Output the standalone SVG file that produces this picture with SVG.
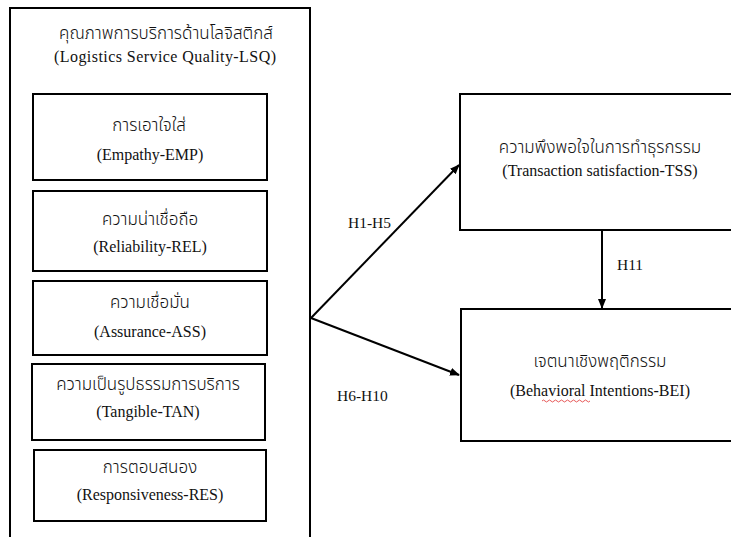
<svg xmlns="http://www.w3.org/2000/svg" width="731" height="537" viewBox="0 0 731 537">
<style>
.box{fill:none;stroke:#000;stroke-width:2}
.th{font-family:"Noto Sans Thai","Noto Sans","DejaVu Sans",sans-serif;font-size:17px;font-weight:300;text-anchor:middle;fill:#111}
.en{font-family:"Liberation Serif","Times New Roman",serif;font-size:16px;text-anchor:middle;fill:#111}
.lbl{font-family:"Liberation Serif","Times New Roman",serif;font-size:15.5px;fill:#111}
.conn{stroke:#000;stroke-width:2;fill:none}
</style>
<defs>
<marker id="ah" markerWidth="10" markerHeight="8" refX="9" refY="4" orient="auto" markerUnits="userSpaceOnUse">
<path d="M0,0 L10,4 L0,8 z" fill="#000"/>
</marker>
</defs>
<rect width="731" height="537" fill="#fff"/>
<g id="LSQ">
<path class="box" d="M10,545 V8 H310 V545"/>
<text class="th" x="166" y="39">คุณภาพการบริการด้านโลจิสติกส์</text>
<text class="en" x="165" y="62" textLength="222" lengthAdjust="spacing">(Logistics Service Quality-LSQ)</text>
</g>
<g id="EMP">
<rect class="box" x="33" y="94" width="234" height="86"/>
<text class="th" x="149" y="131">การเอาใจใส่</text>
<text class="en" x="150" y="160">(Empathy-EMP)</text>
</g>
<g id="REL">
<rect class="box" x="33" y="191" width="234" height="80"/>
<text class="th" x="150" y="225">ความน่าเชื่อถือ</text>
<text class="en" x="150" y="252">(Reliability-REL)</text>
</g>
<g id="ASS">
<rect class="box" x="33" y="281" width="234" height="74"/>
<text class="th" x="150" y="308">ความเชื่อมั่น</text>
<text class="en" x="150" y="337">(Assurance-ASS)</text>
</g>
<g id="TAN">
<rect class="box" x="32" y="364" width="233" height="76"/>
<text class="th" x="148" y="390">ความเป็นรูปธรรมการบริการ</text>
<text class="en" x="148" y="417">(Tangible-TAN)</text>
</g>
<g id="RES">
<rect class="box" x="34" y="450" width="232" height="71"/>
<text class="th" x="150" y="473">การตอบสนอง</text>
<text class="en" x="150" y="500">(Responsiveness-RES)</text>
</g>
<g id="TSS">
<path class="box" d="M740,94 H460 V230 H740"/>
<text class="th" x="600" y="153">ความพึงพอใจในการทำธุรกรรม</text>
<text class="en" x="600" y="176">(Transaction satisfaction-TSS)</text>
</g>
<g id="BEI">
<path class="box" d="M740,309 H461 V441 H740"/>
<text class="th" x="600" y="367">เจตนาเชิงพฤติกรรม</text>
<text class="en" x="600" y="396">(Behavioral Intentions-BEI)</text>
<path d="M542,401 q1.5,-2 3,0 t3,0 t3,0 t3,0 t3,0 t3,0 t3,0 t3,0 t3,0 t3,0 t3,0 t3,0 t3,0 t3,0 t3,0 t3,0" fill="none" stroke="#e03030" stroke-width="0.8"/>
</g>
<g id="connectors">
<line class="conn" x1="311" y1="318" x2="459" y2="165" marker-end="url(#ah)"/>
<line class="conn" x1="311" y1="318" x2="459" y2="375" marker-end="url(#ah)"/>
<line class="conn" x1="602" y1="230" x2="602" y2="308" marker-end="url(#ah)"/>
<text class="lbl" x="348" y="228">H1-H5</text>
<text class="lbl" x="337" y="401">H6-H10</text>
<text class="lbl" x="617" y="270">H11</text>
</g>
</svg>
